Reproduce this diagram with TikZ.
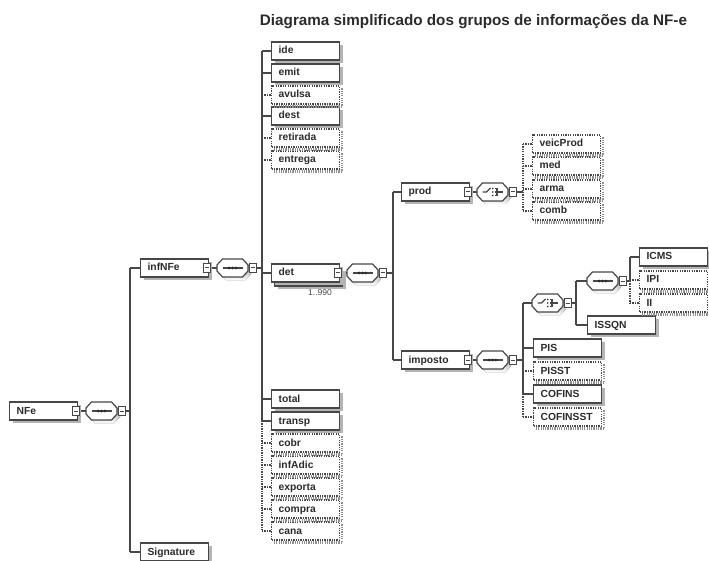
\documentclass[tikz,border=0pt]{standalone}
\usepackage{fontspec}
\setmainfont{Liberation Sans}
\usetikzlibrary{shadows,backgrounds}
\definecolor{edge}{HTML}{474747}
\definecolor{shade}{HTML}{B4B4B4}
\definecolor{ink}{HTML}{2B2B2B}
\tikzset{
  box/.style={draw=edge, line width=1.2pt, fill=white, anchor=west,
    inner xsep=7pt, inner ysep=0pt, text width=54pt, align=left,
    minimum height=18pt, text height=7.5pt, text depth=1.5pt,
    font=\fontsize{10.3}{12}\selectfont\bfseries, text=ink},
  reqel/.style={box, drop shadow={shadow xshift=3pt, shadow yshift=-3pt, fill=shade, opacity=1}},
  optel/.style={box, dash pattern=on 1.3pt off 1.1pt},
  optsh/.style={draw=shade!80!black, line width=2.6pt, dash pattern=on 1.2pt off 1.1pt},
  link/.style={draw=edge, line width=1.2pt},
  optlink/.style={link, dash pattern=on 1.3pt off 1.1pt},
  title/.style={font=\fontsize{15.25}{18}\selectfont\bfseries, text=ink},
  mult/.style={font=\fontsize{8.5}{9}\selectfont, text=edge},
  octo/.style={draw=edge, line width=1.2pt, fill=white},
  seqc/.pic={
    \fill[shade] (-12.5,0) -- (-7,-6) -- (13,-6) -- (18.5,0) -- (18.5,6) -- (13,12) -- (-7,12) -- (-12.5,6) -- cycle;
    \path[octo] (-15.5,-3) -- (-10,-9) -- (10,-9) -- (15.5,-3) -- (15.5,3) -- (10,9) -- (-10,9) -- (-15.5,3) -- cycle;
    \draw[edge, line width=1.1pt] (-10,0) -- (10,0);
    \fill[ink] (-3.4,0) circle (1.5pt) (0,0) circle (1.5pt) (3.4,0) circle (1.5pt);
    \coordinate (-in) at (-15.5,0);
    \coordinate (-out) at (15.5,0);
  },
  choicec/.pic={
    \fill[shade] (-12.5,0) -- (-7,-6) -- (13,-6) -- (18.5,0) -- (18.5,6) -- (13,12) -- (-7,12) -- (-12.5,6) -- cycle;
    \path[octo] (-15.5,-3) -- (-10,-9) -- (10,-9) -- (15.5,-3) -- (15.5,3) -- (10,9) -- (-10,9) -- (-15.5,3) -- cycle;
    \draw[edge, line width=1.1pt] (-10,0) -- (-6,0) -- (-2,-4);
    \fill[ink] (0.3,-3.5) circle (0.9pt) (0.3,0) circle (0.9pt) (0.3,3.5) circle (0.9pt);
    \draw[edge, line width=1.1pt] (2,-3.5) -- (4.5,-3.5) -- (4.5,3.5) -- (2,3.5);
    \draw[edge, line width=1.1pt] (2,0) -- (10,0);
    \coordinate (-in) at (-15.5,0);
    \coordinate (-out) at (15.5,0);
  },
  cbox/.pic={
    \path[draw=edge, line width=1pt, fill=white] (-3.5,-4.5) rectangle (3.5,4.5);
    \draw[edge, line width=1pt] (-2,0) -- (2,0);
    \coordinate (-w) at (-3.5,0);
    \coordinate (-e) at (3.5,0);
  }
}
\begin{document}
\begin{tikzpicture}[x=1pt,y=-1pt]
\useasboundingbox (0,0) rectangle (709,561);
\clip (0,0) rectangle (709,561);

\node[title] (title) at (473.5,22) {Diagrama simplificado dos grupos de informações da NF-e};

% root
\node[reqel] (NFe) at (9,411) {NFe};
\pic (sqNFe) at (75.5,411) {cbox};
\pic (cNFe) at (101.5,411) {seqc};
\pic (sqbNFe) at (121.5,411) {cbox};
\coordinate (busNFe) at (130,411);

\node[reqel] (infNFe) at (140,268) {infNFe};
\node[reqel] (Signature) at (140,552) {Signature};
\pic (sqInf) at (206.5,268) {cbox};
\pic (cInf) at (232.5,268) {seqc};
\pic (sqbInf) at (252.5,268) {cbox};
\coordinate (busInf) at (262,268);

% children of infNFe
\node[reqel] (ide) at (271,51) {ide};
\node[reqel] (emit) at (271,73) {emit};
\node[optel] (avulsa) at (271,95) {avulsa};
\node[reqel] (dest) at (271,116) {dest};
\node[optel] (retirada) at (271,138) {retirada};
\node[optel] (entrega) at (271,160) {entrega};
\node[reqel] (detback) at (274,277) {};
\node[reqel] (det) at (271,273) {det};
\node[mult] (detmult) at (320,293) {1..990};
\node[reqel] (total) at (271,399) {total};
\node[reqel] (transp) at (271,421) {transp};
\node[optel] (cobr) at (271,443) {cobr};
\node[optel] (infAdic) at (271,465) {infAdic};
\node[optel] (exporta) at (271,487) {exporta};
\node[optel] (compra) at (271,509) {compra};
\node[optel] (cana) at (271,531) {cana};

\pic (sqDet) at (337.5,273) {cbox};
\pic (cDet) at (362.5,273) {seqc};
\pic (sqbDet) at (382.5,273) {cbox};
\coordinate (busDet) at (393,273);

% prod
\node[reqel] (prod) at (401,192) {prod};
\pic (sqProd) at (467.5,192) {cbox};
\pic (cProd) at (492.5,192) {choicec};
\pic (sqbProd) at (512.5,192) {cbox};
\coordinate (busProd) at (523,192);
\node[optel] (veicProd) at (532,144) {veicProd};
\node[optel] (med) at (532,166) {med};
\node[optel] (arma) at (532,189) {arma};
\node[optel] (comb) at (532,211) {comb};

% imposto
\node[reqel] (imposto) at (401,360) {imposto};
\pic (sqImp) at (467.5,360) {cbox};
\pic (cImp) at (492.5,360) {seqc};
\pic (sqbImp) at (512.5,360) {cbox};
\coordinate (busImp) at (523,360);

\pic (cCh) at (547.5,303) {choicec};
\pic (sqbCh) at (567.5,303) {cbox};
\coordinate (busCh) at (576,303);

\pic (cSeq) at (602.5,281) {seqc};
\pic (sqbSeq) at (622.5,281) {cbox};
\coordinate (busSeq) at (630,281);

\node[reqel] (ICMS) at (639,257) {ICMS};
\node[optel] (IPI) at (639,280) {IPI};
\node[optel] (II) at (639,303) {II};
\node[reqel] (ISSQN) at (587,325) {ISSQN};
\node[reqel] (PIS) at (533,348) {PIS};
\node[optel] (PISST) at (533,371) {PISST};
\node[reqel] (COFINS) at (533,394) {COFINS};
\node[optel] (COFINSST) at (533,417) {COFINSST};

% dotted shadows of optional elements
\foreach \n in {avulsa,retirada,entrega,cobr,infAdic,exporta,compra,cana,veicProd,med,arma,comb,IPI,II,PISST,COFINSST}
  \draw[optsh] ([xshift=1.9pt,yshift=-3pt]\n.north east) |- ([xshift=3pt,yshift=-1.9pt]\n.south west);

\begin{scope}[on background layer]
  % NFe
  \draw[link] (sqNFe-e) -- (cNFe-in);
  \draw[link] (sqbNFe-e) -- (busNFe);
  \draw[link] (busNFe |- infNFe.west) -- (busNFe |- Signature.west);
  \draw[link] (busNFe |- infNFe.west) -- (infNFe.west);
  \draw[link] (busNFe |- Signature.west) -- (Signature.west);
  % infNFe
  \draw[link] (sqInf-e) -- (cInf-in);
  \draw[link] (sqbInf-e) -- (busInf);
  \draw[link] (busInf |- ide.west) -- (busInf |- transp.west);
  \draw[optlink] (busInf |- transp.west) -- (busInf |- cana.west);
  \foreach \n in {ide,emit,dest,det,total,transp}
    \draw[link] (busInf |- \n.west) -- (\n.west);
  \foreach \n in {avulsa,retirada,entrega,cobr,infAdic,exporta,compra,cana}
    \draw[optlink] (busInf |- \n.west) -- (\n.west);
  % det
  \draw[link] (sqDet-e) -- (cDet-in);
  \draw[link] (sqbDet-e) -- (busDet);
  \draw[link] (busDet |- prod.west) -- (busDet |- imposto.west);
  \draw[link] (busDet |- prod.west) -- (prod.west);
  \draw[link] (busDet |- imposto.west) -- (imposto.west);
  % prod
  \draw[link] (sqProd-e) -- (cProd-in);
  \draw[link] (sqbProd-e) -- (busProd);
  \draw[optlink] (busProd |- veicProd.west) -- (busProd |- comb.west);
  \foreach \n in {veicProd,med,arma,comb}
    \draw[optlink] (busProd |- \n.west) -- (\n.west);
  % imposto
  \draw[link] (sqImp-e) -- (cImp-in);
  \draw[link] (sqbImp-e) -- (busImp);
  \draw[link] (busImp |- cCh-in) -- (busImp |- COFINS.west);
  \draw[optlink] (busImp |- COFINS.west) -- (busImp |- COFINSST.west);
  \draw[link] (busImp |- cCh-in) -- (cCh-in);
  \draw[link] (busImp |- PIS.west) -- (PIS.west);
  \draw[link] (busImp |- COFINS.west) -- (COFINS.west);
  \draw[optlink] (busImp |- PISST.west) -- (PISST.west);
  \draw[optlink] (busImp |- COFINSST.west) -- (COFINSST.west);
  % choice inside imposto
  \draw[link] (sqbCh-e) -- (busCh);
  \draw[link] (busCh |- cSeq-in) -- (busCh |- ISSQN.west);
  \draw[link] (busCh |- cSeq-in) -- (cSeq-in);
  \draw[link] (busCh |- ISSQN.west) -- (ISSQN.west);
  % sequence ICMS / IPI / II
  \draw[link] (sqbSeq-e) -- (busSeq);
  \draw[link] (busSeq |- ICMS.west) -- (busSeq);
  \draw[optlink] (busSeq) -- (busSeq |- II.west);
  \draw[link] (busSeq |- ICMS.west) -- (ICMS.west);
  \draw[optlink] (busSeq |- IPI.west) -- (IPI.west);
  \draw[optlink] (busSeq |- II.west) -- (II.west);
\end{scope}
\end{tikzpicture}
\end{document}
